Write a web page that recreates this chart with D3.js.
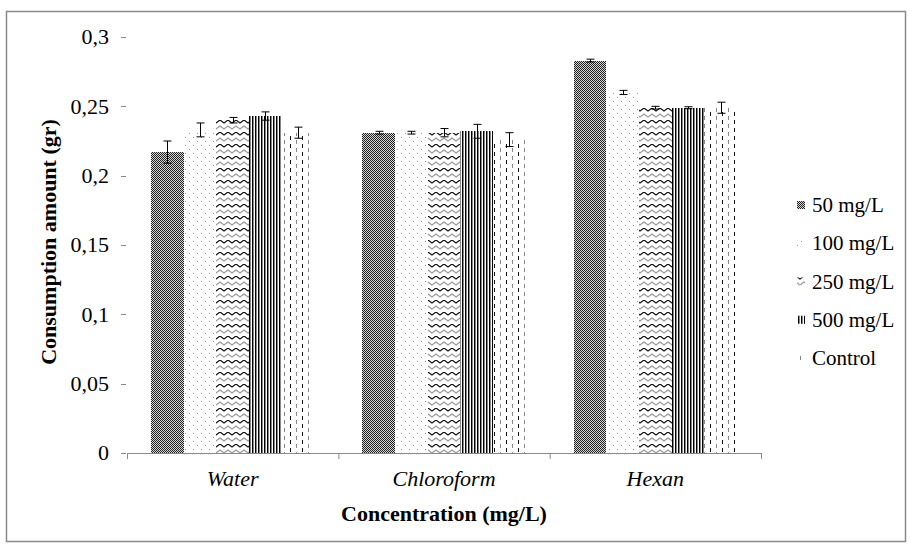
<!DOCTYPE html>
<html><head><meta charset="utf-8">
<script src="https://cdn.jsdelivr.net/npm/d3@7"></script>
<style>body{margin:0;background:#fff}svg{display:block}</style>
</head><body><svg id="c" width="910" height="547"></svg>
<script>
const categories = ["Water", "Chloroform", "Hexan"];
const seriesNames = ["50 mg/L", "100 mg/L", "250 mg/L", "500 mg/L", "Control"];
const v50 = [0.217, 0.231, 0.283];
const v100 = [0.233, 0.231, 0.260];
const v250 = [0.240, 0.231, 0.249];
const v500 = [0.243, 0.232, 0.249];
const vControl = [0.231, 0.226, 0.249];
const e50 = [0.008, 0.001, 0.001];
const e100 = [0.005, 0.001, 0.0015];
const e250 = [0.002, 0.003, 0.001];
const e500 = [0.003, 0.005, 0.0007];
const eControl = [0.004, 0.005, 0.004];
const yTicks = [0, 0.05, 0.1, 0.15, 0.2, 0.25, 0.3];
const yTickLabels = ["0", "0,05", "0,1", "0,15", "0,2", "0,25", "0,3"];

const values = [v50, v100, v250, v500, vControl];
const errors = [e50, e100, e250, e500, eControl];
const FONT = "Liberation Serif";

const svg = d3.select("#c").style("font-family", FONT);

function txt(parent, x, yy, s, size, extra) {
  const t = parent.append("text").attr("x", x).attr("y", yy)
    .style("font-family", FONT).style("font-size", size + "px").style("fill", "#000").text(s);
  if (extra) extra(t);
  return t;
}

const defs = svg.append("defs");
function pat(id, w, h) {
  const p = defs.append("pattern").attr("id", id).attr("patternUnits", "userSpaceOnUse")
    .attr("width", w).attr("height", h);
  p.append("rect").attr("width", w).attr("height", h).attr("fill", "#fff");
  return p;
}
// 50: dense checker
let p = pat("p0", 2, 2);
p.append("rect").attr("width", 2).attr("height", 2).attr("fill", "#d4d4d4");
p.append("rect").attr("x", 0).attr("y", 0).attr("width", 1).attr("height", 1).attr("fill", "#222");
p.append("rect").attr("x", 1).attr("y", 1).attr("width", 1).attr("height", 1).attr("fill", "#222");
// 100: sparse dots
p = pat("p1", 8, 8);
p.append("rect").attr("x", 1).attr("y", 1).attr("width", 1).attr("height", 1).attr("fill", "#888");
p.append("rect").attr("x", 5).attr("y", 5).attr("width", 1).attr("height", 1).attr("fill", "#999");
// 250: zigzag
p = pat("p2", 8, 12);
p.append("path").attr("d", "M-4,0 L0,3 L4,0 L8,3 L12,0").attr("fill", "none").attr("stroke", "#111").attr("stroke-width", 1.2);
p.append("path").attr("d", "M-4,6 L0,9 L4,6 L8,9 L12,6").attr("fill", "none").attr("stroke", "#999").attr("stroke-width", 1.2);
// 500: vertical stripes
p = pat("p3", 3, 4);
p.append("rect").attr("x", 0).attr("width", 1).attr("height", 4).attr("fill", "#000");
p.append("rect").attr("x", 1).attr("width", 1).attr("height", 4).attr("fill", "#888");
// control: vertical dashes
p = pat("p4", 12, 8);
p.append("rect").attr("x", 2).attr("y", 0).attr("width", 1).attr("height", 4).attr("fill", "#111");
p.append("rect").attr("x", 8).attr("y", 4).attr("width", 1).attr("height", 4).attr("fill", "#888");

// frame
svg.append("rect").attr("x", 6.5).attr("y", 11.5).attr("width", 899).attr("height", 530)
  .attr("fill", "none").attr("stroke", "#8a8a8a").attr("stroke-width", 1.5);

const x0 = d3.scaleBand().domain(categories).range([127, 761]).paddingInner(0).paddingOuter(0);
const x1 = d3.scaleBand().domain(seriesNames).range([0, x0.bandwidth()]).paddingInner(0).paddingOuter(0.735);
const y = d3.scaleLinear().domain([0, 0.3]).range([453, 37]);

// bars
seriesNames.forEach((s, si) => {
  const g = svg.append("g");
  g.selectAll("rect").data(categories).join("rect")
    .attr("x", c => x0(c) + x1(s))
    .attr("y", (c, ci) => y(values[si][ci]))
    .attr("width", x1.bandwidth())
    .attr("height", (c, ci) => y(0) - y(values[si][ci]))
    .attr("fill", `url(#p${si})`)
    .attr("shape-rendering", "crispEdges");
});

// error bars
seriesNames.forEach((s, si) => {
  const g = svg.append("g").attr("stroke", "#000").attr("stroke-width", 1);
  categories.forEach((c, ci) => {
    const cx = Math.round(x0(c) + x1(s) + x1.bandwidth() / 2) + 0.5;
    const hi = y(values[si][ci] + errors[si][ci]), lo = y(values[si][ci] - errors[si][ci]);
    g.append("line").attr("x1", cx).attr("x2", cx).attr("y1", hi).attr("y2", lo);
    g.append("line").attr("x1", cx - 4).attr("x2", cx + 4).attr("y1", hi).attr("y2", hi);
    g.append("line").attr("x1", cx - 4).attr("x2", cx + 4).attr("y1", lo).attr("y2", lo);
  });
});

// x axis (manual, from scale)
const xr = x0.range();
svg.append("line").attr("x1", xr[0]).attr("x2", xr[1]).attr("y1", y(0) + 0.5).attr("y2", y(0) + 0.5).attr("stroke", "#8a8a8a");
const bounds = [xr[0], ...categories.map(c => x0(c) + x0.bandwidth())];
bounds.forEach(b => svg.append("line").attr("x1", b + 0.5).attr("x2", b + 0.5).attr("y1", y(0)).attr("y2", y(0) + 6).attr("stroke", "#8a8a8a"));
categories.forEach(c => txt(svg, x0(c) + x0.bandwidth() / 2, 486, c, 22,
  t => t.attr("text-anchor", "middle").style("font-style", "italic")));

// y axis (ticks only)
yTicks.forEach((v, i) => {
  const yy = Math.round(y(v)) + 0.5;
  svg.append("line").attr("x1", 121).attr("x2", 126).attr("y1", yy).attr("y2", yy).attr("stroke", "#8a8a8a");
  txt(svg, 109, y(v), yTickLabels[i], 22, t => t.attr("text-anchor", "end").attr("dy", "0.34em"));
});

// axis titles
txt(svg, 0, 0, "Consumption amount (gr)", 22,
  t => t.attr("transform", "translate(56,242) rotate(-90)").attr("text-anchor", "middle").style("font-weight", "bold"));
txt(svg, 444, 521, "Concentration (mg/L)", 22,
  t => t.attr("text-anchor", "middle").style("font-weight", "bold"));

// legend
const ly = d3.scalePoint().domain(seriesNames).range([205, 358]);
seriesNames.forEach((s, si) => {
  svg.append("rect").attr("x", 797).attr("y", ly(s) - 4).attr("width", 8).attr("height", 8)
    .attr("fill", `url(#p${si})`);
  txt(svg, 812, ly(s), s, 21, t => t.attr("dy", "0.34em"));
});
</script></body></html>
